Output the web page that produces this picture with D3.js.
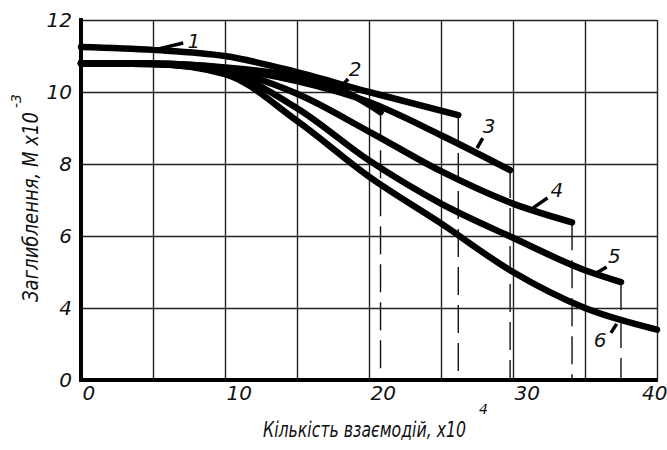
<!DOCTYPE html>
<html>
<head>
<meta charset="utf-8">
<script src="https://cdn.jsdelivr.net/npm/d3@7"></script>
<style>
  body { margin: 0; background: #fff; }
  text { font-family: "DejaVu Sans", sans-serif; font-style: italic; fill: #111; }
</style>
</head>
<body>
<div id="chart"></div>
<script>
// x: number of interactions (x10^4), y: depth (M x10^-3)
var xTicks = [0, 5, 10, 15, 20, 25, 30, 35, 40];
var xTickLabels = ['0', '', '10', '', '20', '', '30', '', '40'];
var yTicks = [2, 4, 6, 8, 10, 12];
var yTickLabels = ['0', '4', '6', '8', '10', '12'];

var curve1X = [0, 5, 10, 15, 20, 26.2];
var curve1Y = [11.25, 11.17, 11.0, 10.55, 10.0, 9.36];
var curve2X = [0, 5, 10, 15, 18, 20.8];
var curve2Y = [10.8, 10.79, 10.68, 10.42, 10.08, 9.44];
var curve3X = [0, 5, 10, 15, 20, 25, 29.8];
var curve3Y = [10.8, 10.79, 10.66, 10.3, 9.72, 8.8, 7.83];
var curve4X = [0, 5, 10, 15, 20, 25, 30, 34.1];
var curve4Y = [10.8, 10.78, 10.6, 9.95, 8.9, 7.8, 6.9, 6.38];
var curve5X = [0, 5, 10, 15, 20, 25, 30, 35, 37.5];
var curve5Y = [10.8, 10.78, 10.55, 9.55, 8.1, 6.9, 5.95, 5.05, 4.72];
var curve6X = [0, 5, 10, 15, 20, 25, 30, 35, 40];
var curve6Y = [10.8, 10.78, 10.5, 9.2, 7.65, 6.35, 5.0, 4.0, 3.4];

var curveNames = ['1', '2', '3', '4', '5', '6'];
// label text position and leader line (data units)
var labelX = [7.4, 18.6, 27.9, 32.6, 36.6, 35.6];
var labelY = [11.22, 10.44, 8.86, 7.08, 5.25, 2.92];
var leaderFromX = [5.1, 18.3, 27.5, 31.4, 35.8, 36.8];
var leaderFromY = [11.17, 10.25, 8.44, 6.78, 4.97, 3.31];
var leaderToX = [7.1, 18.55, 27.9, 32.4, 36.5, 37.2];
var leaderToY = [11.36, 10.36, 8.72, 7.06, 5.14, 3.56];

var W = 667, H = 450;
var margin = { left: 81, right: 10, top: 20, bottom: 70 };
var pw = W - margin.left - margin.right;
var ph = H - margin.top - margin.bottom;

var svg = d3.select('#chart').append('svg')
  .attr('width', W).attr('height', H);

var g = svg.append('g')
  .attr('transform', 'translate(' + margin.left + ',' + margin.top + ')');

var x = d3.scaleLinear().domain([0, 40]).range([0, pw]);
var y = d3.scaleLinear().domain([2, 12]).range([ph, 0]);

//grid + tick labels
var yAxis = g.append('g')
  .call(d3.axisLeft(y).tickValues(yTicks)
    .tickFormat(function (d, i) { return yTickLabels[i]; })
    .tickSize(-pw).tickPadding(9));
yAxis.select('.domain').remove();
yAxis.selectAll('line').attr('stroke', '#222').attr('stroke-width', 1.4);
yAxis.selectAll('text').style('font-size', '20px').attr('fill', '#111');

var xAxis = g.append('g')
  .attr('transform', 'translate(0,' + ph + ')')
  .call(d3.axisBottom(x).tickValues(xTicks)
    .tickFormat(function (d, i) { return xTickLabels[i]; })
    .tickSize(-ph).tickPadding(6));
xAxis.select('.domain').remove();
xAxis.selectAll('line').attr('stroke', '#222').attr('stroke-width', 1.4);
xAxis.selectAll('text')
  .style('font-size', '20px')
  .attr('fill', '#111')
  .attr('text-anchor', function (d) { return d == 40 ? 'end' : 'start'; })
  .attr('dx', function (d) { return d == 40 ? 10 : 1; });

//thick axes
g.append('line').attr('x1', x(0)).attr('x2', x(0)).attr('y1', y(12) - 2).attr('y2', y(2) + 2)
  .attr('stroke', '#000').attr('stroke-width', 4);
g.append('line').attr('x1', x(0) - 2).attr('x2', x(40) + 1).attr('y1', y(2)).attr('y2', y(2))
  .attr('stroke', '#000').attr('stroke-width', 4);

var curves = [
  [curve1X, curve1Y], [curve2X, curve2Y], [curve3X, curve3Y],
  [curve4X, curve4Y], [curve5X, curve5Y], [curve6X, curve6Y]
];

//dashed drop lines from the end of curves 1-5
curves.slice(0, 5).forEach(function (c) {
  var n = c[0].length - 1;
  g.append('line')
    .attr('x1', x(c[0][n])).attr('x2', x(c[0][n]))
    .attr('y1', y(c[1][n])).attr('y2', y(2))
    .attr('stroke', '#111').attr('stroke-width', 1.4)
    .attr('stroke-dasharray', '28,10');
});

var line = d3.line()
  .x(function (d) { return x(d[0]); })
  .y(function (d) { return y(d[1]); })
  .curve(d3.curveMonotoneX);

curves.forEach(function (c) {
  var pts = c[0].map(function (v, i) { return [v, c[1][i]]; });
  g.append('path')
    .attr('d', line(pts))
    .attr('fill', 'none')
    .attr('stroke', '#000')
    .attr('stroke-width', 6.5)
    .attr('stroke-linecap', 'round')
    .attr('stroke-linejoin', 'round');
});

//curve number labels with leaders
curveNames.forEach(function (name, i) {
  g.append('line')
    .attr('x1', x(leaderFromX[i])).attr('y1', y(leaderFromY[i]))
    .attr('x2', x(leaderToX[i])).attr('y2', y(leaderToY[i]))
    .attr('stroke', '#000').attr('stroke-width', 3.5);
  g.append('text')
    .attr('x', x(labelX[i])).attr('y', y(labelY[i]))
    .style('font-size', '20px')
    .text(name);
});

//axis titles (squeezed to the narrow drafting font width)
svg.append('text')
  .attr('x', 263).attr('y', 437)
  .attr('textLength', 203).attr('lengthAdjust', 'spacingAndGlyphs')
  .style('font-size', '21px')
  .text('Кількість взаємодій, х10');
svg.append('text')
  .attr('x', 479).attr('y', 414)
  .style('font-size', '14px')
  .text('4');

var yt = svg.append('g')
  .attr('transform', 'translate(38,302) rotate(-90)');
yt.append('text')
  .attr('x', 0).attr('y', 0)
  .attr('textLength', 190).attr('lengthAdjust', 'spacingAndGlyphs')
  .style('font-size', '21px')
  .text('Заглиблення, М х10');
yt.append('text')
  .attr('x', 194).attr('y', -17)
  .style('font-size', '14px')
  .text('-3');
</script>
</body>
</html>
